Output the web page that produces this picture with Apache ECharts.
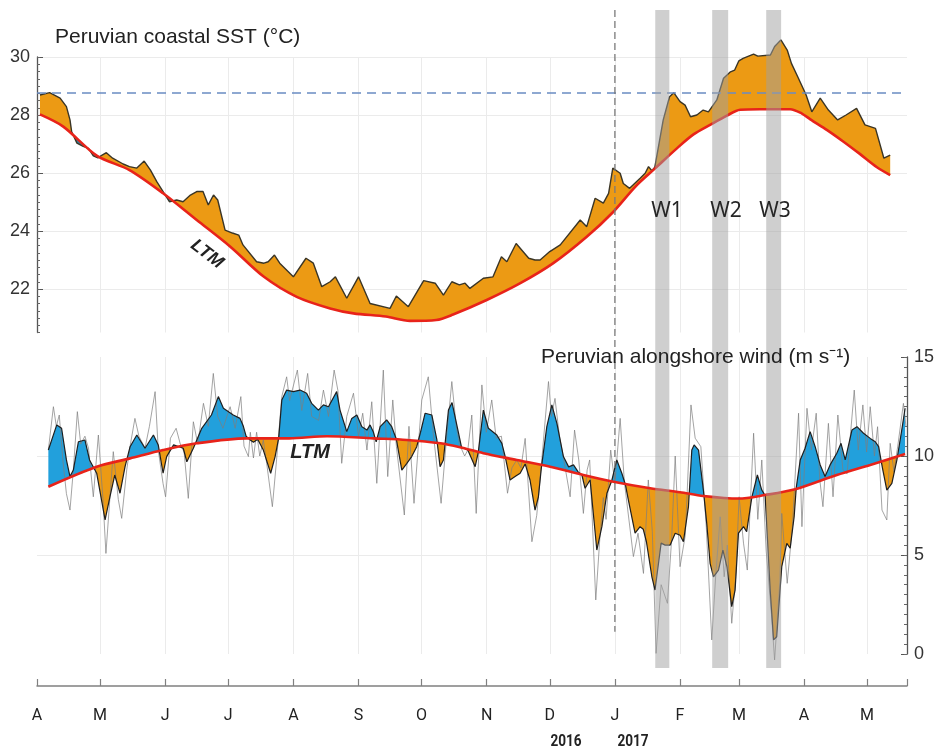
<!DOCTYPE html>
<html><head><meta charset="utf-8">
<script src="https://cdn.jsdelivr.net/npm/echarts@6/dist/echarts.min.js"></script>
<style>html,body{margin:0;padding:0;background:#fff}#c{width:938px;height:751px}</style>
</head><body><div id="c"></div>
<script>
// ---- axis / category data (x in days since 1 Apr 2016) ----
const monthStarts = [0,30,61,91,122,153,183,214,244,275,306,334,365,395];
const monthLabels = ['A','M','J','J','A','S','O','N','D','J','F','M','A','M'];
const xEnd = 414;
const janDay = 275;
const yearLabels = ['2016','2017'];
const sstTicks = [22,24,26,28,30];
const windTicks = [0,5,10,15];
const sstThreshold = 28.76;
const wEventNames = ['W1','W2','W3'];
const wEventSpans = [[294.2,300.9],[321.3,328.9],[347,354.1]];

// ---- Peruvian coastal SST (°C) ----
const sstObs = [[1.4,28.69],[6,28.77],[11,28.58],[14,28.29],[15.7,27.83],[16.5,27.42],[19,27.03],[22,26.92],[24.5,26.85],[26.8,26.59],[29,26.52],[31,26.62],[33,26.7],[36,26.51],[41,26.31],[44,26.22],[47.5,26.17],[51,26.41],[54,26.1],[57,25.7],[63,25.01],[66.5,25.07],[69.5,25.01],[73,25.24],[76,25.36],[79,25.36],[81.5,24.9],[84,25.24],[86,25.07],[89.5,24.03],[93,23.93],[96,23.86],[98,23.52],[104.5,22.94],[108,22.89],[110,22.94],[113,23.17],[115.5,22.89],[122,22.42],[128,23.06],[131.5,22.89],[135.5,22.08],[139.5,22.25],[142,22.42],[147.4,21.68],[153,22.42],[158.5,21.5],[168,21.33],[171,21.76],[176.7,21.39],[184,22.29],[189.5,22.2],[193.4,21.79],[197.4,22.25],[201,22.14],[203.7,22.2],[206,22.02],[212.4,22.37],[217,22.42],[221,23.11],[223.6,22.94],[228,23.57],[234,23.06],[237,23.0],[239.4,23.0],[244,23.29],[249,23.52],[258.5,24.38],[261.6,24.15],[265.6,25.13],[269.5,24.96],[272,25.3],[274,26.17],[277.5,25.99],[279,25.64],[282,25.47],[287,25.82],[289.4,25.99],[291,26.22],[292.6,26.08],[294,26.2],[298,27.83],[301,28.63],[303,28.77],[306,28.46],[308.4,28.34],[311,27.94],[314,28.0],[317,28.17],[319.5,28.11],[323.5,28.52],[326.7,29.27],[330,29.49],[332,29.55],[334,29.87],[336,29.95],[341,30.1],[343,30.03],[349,30.07],[351,30.36],[354,30.59],[357,30.24],[359,29.78],[362,29.32],[366,28.69],[368.7,28.11],[372.7,28.58],[376.6,28.17],[381,27.83],[385,28.0],[390,28.23],[394,27.66],[399,27.54],[403,26.51],[406,26.62]];
const sstLtm = [[1.4,28.02],[12.5,27.6],[28.4,26.6],[44,26.1],[60,25.3],[76,24.38],[92,23.46],[108,22.42],[123.6,21.73],[139.5,21.33],[150.6,21.16],[166,21.05],[177.5,20.9],[190,20.93],[198,21.12],[214,21.62],[230,22.2],[245.7,22.89],[261.6,23.8],[273.7,24.62],[285,25.55],[294,26.15],[304.5,26.85],[312.4,27.33],[320.3,27.66],[328.3,27.98],[334.6,28.18],[344,28.2],[358.4,28.2],[364,28.05],[368,27.85],[376,27.48],[383.8,27.08],[391.7,26.65],[399.7,26.2],[406,25.93]];

// ---- Peruvian alongshore wind (m s-1) ----
const windSmooth = [[5.4,10.3],[9.4,11.57],[11.7,11.4],[14,9.8],[15.7,8.96],[17.3,9.29],[19.7,10.72],[22.8,10.81],[25,9.8],[28.4,9.13],[32.4,6.77],[34.7,7.94],[37,9.04],[39.5,8.12],[41.9,9.46],[44.3,10.47],[47.5,11.06],[51.4,10.39],[55.4,11.06],[57.7,10.56],[60,9.13],[61.7,9.97],[65,10.56],[69.6,10.39],[71.3,9.71],[74.4,10.39],[78.4,11.4],[83,12.07],[86.3,13.0],[88.7,12.41],[93.4,12.07],[96.6,11.9],[98.2,11.5],[99.5,11.0],[101,10.85],[103,10.7],[105,10.85],[107.7,10.3],[111.2,9.13],[113.3,9.97],[115,10.9],[116.5,12.83],[118.8,13.33],[122,13.25],[125.2,13.33],[128.3,13.17],[130.7,12.66],[133.9,12.32],[136.3,12.58],[138.7,12.49],[142.6,13.25],[144.2,12.32],[147.4,11.23],[149.8,11.9],[152.2,12.07],[154.6,11.48],[157,11.31],[158.5,11.57],[160,11.23],[161.4,10.72],[163.3,11.48],[166.4,11.82],[168.8,11.48],[171,10.85],[173.6,9.29],[176,9.63],[178.3,9.97],[180.7,10.47],[182.5,11.2],[184.7,12.16],[187.9,12.07],[190.3,10.81],[191.8,9.46],[193.4,9.8],[195.8,12.32],[197.5,12.7],[200.5,11.2],[202,10.45],[205,10.3],[208.5,9.46],[210,10.2],[212.4,12.32],[214.8,11.4],[218.8,11.06],[221.2,10.64],[222.8,9.97],[225.1,8.79],[227.5,8.96],[229.9,9.13],[232.3,9.6],[234.6,8.79],[237,7.27],[238.6,7.94],[240,9.4],[242.6,11.48],[245,12.58],[247.4,11.65],[250.5,9.97],[253,9.45],[255.3,9.55],[257.5,9.2],[259.3,9.04],[260.8,8.37],[263.2,8.79],[266.4,5.25],[268.8,6.43],[271.2,8.12],[273.5,8.75],[275.9,9.8],[278.3,9.13],[280,8.55],[281.4,7.78],[284.6,6.1],[287,6.43],[288.5,6.3],[290,5.67],[292.6,3.9],[294.1,3.23],[297,5.6],[298.9,5.5],[301.3,5.5],[303.7,6.1],[306,6.0],[307.6,5.67],[310,7.44],[311.6,10.3],[312.7,10.56],[314.8,10.3],[317.1,8.28],[318.7,6.6],[320.3,4.58],[321.9,3.9],[324.3,4.24],[326.4,5.25],[328.3,4.41],[330.6,2.39],[332.2,3.23],[333.8,6.1],[336.2,6.43],[337.7,6.18],[340.2,7.94],[342.8,9.04],[344.9,8.28],[346.5,8.0],[348.9,3.23],[350.5,0.71],[352,0.87],[354.4,4.41],[356.8,5.59],[358.4,5.34],[360.3,6.93],[361.3,8.4],[363.2,9.8],[365.5,10.39],[367.9,11.23],[370.3,10.47],[372.7,9.55],[375,8.96],[377.4,9.55],[380.6,10.14],[382.6,10.64],[384.6,9.8],[387.8,11.31],[390.2,11.48],[393.3,11.15],[396.5,10.89],[398.9,10.72],[400.5,10.47],[402.3,9.4],[404.4,8.28],[406.8,8.62],[409.2,9.8],[411.5,11.31],[413.1,12.41]];
const windLtm = [[5.4,8.45],[28.4,9.46],[44.3,9.88],[60,10.3],[76,10.64],[99.8,10.89],[120,10.89],[138,11.0],[160,10.89],[176,10.81],[192,10.64],[201.3,10.44],[212.4,10.14],[228.3,9.8],[244.2,9.46],[260,9.04],[274.3,8.7],[291.8,8.37],[306,8.17],[317.1,7.98],[333.8,7.85],[346.5,8.03],[360.8,8.32],[380.6,9.04],[396.5,9.55],[413.1,10.1]];
const windRaw = [[5.4,10.3],[7.8,12.49],[9.2,11.5],[10.6,12.07],[12.3,9.8],[14,8.1],[15.7,7.27],[17.3,9.3],[19.2,12.24],[20.8,10.6],[22.8,11.0],[24.5,10.4],[26.8,7.94],[29.2,11.06],[31.4,7.8],[32.8,5.08],[34.7,7.9],[36.3,10.22],[38.7,7.8],[40.3,6.85],[42.7,9.3],[44.3,10.5],[46.6,11.9],[48.5,11.0],[51.4,10.4],[53.5,11.5],[56.2,13.25],[57.7,10.3],[60,8.6],[61.2,7.94],[63.5,10.9],[66.2,11.4],[68.2,10.6],[70,10.2],[72,7.86],[74.4,11.73],[76.5,10.6],[79.2,12.66],[81.5,11.5],[83.9,14.17],[86,12.0],[88.5,11.4],[91.9,12.49],[94.3,11.4],[97,13.0],[98.5,10.5],[100.6,9.97],[101.5,11.2],[103,9.9],[104.5,11.2],[106,10.0],[107.7,10.8],[109.3,9.63],[112,7.44],[114,9.8],[116.5,13.0],[118.8,14.0],[120.2,12.8],[123.9,14.34],[126,12.3],[128.8,14.17],[130.7,12.0],[134,11.8],[136.3,13.33],[138.7,12.0],[141.4,14.34],[143.2,13.3],[145,9.63],[147.4,12.0],[150.6,13.17],[153,11.0],[155,12.16],[157,10.3],[159.3,12.74],[161.7,8.62],[164.8,14.34],[166.9,8.96],[169.3,12.83],[171,10.5],[174.8,7.02],[177,11.5],[179.4,7.61],[183.1,12.83],[186.2,14.0],[188.5,11.2],[192.3,7.61],[194.8,10.8],[197.4,13.76],[199.5,11.5],[201,10.6],[203.5,10.0],[205,10.3],[206.9,12.07],[209,7.1],[211.7,13.59],[213.8,11.2],[216.4,12.83],[218.5,10.9],[221,11.0],[223.9,8.12],[226,9.4],[228.3,9.8],[230.3,9.4],[232.3,10.89],[235.5,5.67],[237.8,7.0],[240.2,9.8],[243.4,13.76],[244.8,12.0],[246.5,12.91],[248.6,11.0],[250.7,9.8],[253.7,7.94],[255.8,11.31],[257.8,9.8],[260,7.1],[261.8,9.3],[263,9.8],[265.9,2.73],[267.8,5.8],[269.5,7.9],[270.8,6.8],[273,10.3],[275,8.6],[277.5,11.9],[279.5,8.7],[283.8,4.92],[286,6.1],[288.6,4.07],[290.9,8.79],[292.8,6.2],[294.6,0.03],[297,3.5],[300,2.56],[302,5.8],[303.7,10.0],[306,4.41],[308.5,6.0],[311.2,12.58],[313.2,10.9],[315.9,10.47],[318.5,6.4],[321.1,0.71],[323,4.0],[325.1,6.93],[327,3.9],[328.5,5.5],[330.6,1.55],[332.5,3.9],[334.1,7.94],[336.2,5.6],[338,4.24],[341,11.15],[343,6.8],[344.9,9.8],[347,5.2],[349.5,2.0],[351,-0.3],[353.5,3.7],[354.4,7.1],[357,3.57],[359.5,6.5],[362.4,12.16],[364,6.43],[366.4,12.41],[368.5,10.3],[370.8,12.16],[372.5,8.8],[374,7.44],[376.6,11.65],[378.8,7.94],[381.1,12.07],[383.5,9.3],[385.5,9.1],[388.9,13.33],[390.8,10.3],[393,12.58],[394.8,10.2],[396.5,12.49],[398.5,10.0],[400,11.48],[402.1,7.27],[404.4,6.77],[406,10.64],[407.8,9.2],[409.6,10.5],[412.3,12.66],[413.5,11.5]];

// ---- colours ----
const ORANGE = '#EC9A14';
const BLUE = '#22A0DC';
const TEAL = '#2f7f9f';
const RED = '#E8231A';

function makeFill(upper, lower, colAbove, colBelow) {
  return function (params, api) {
    const A = upper.map(p => api.coord(p));
    const B = lower.map(p => api.coord(p));
    const x0 = Math.max(A[0][0], B[0][0]);
    const x1 = Math.min(A[A.length - 1][0], B[B.length - 1][0]);
    const xs = [];
    A.concat(B).forEach(p => { if (p[0] >= x0 - 1e-6 && p[0] <= x1 + 1e-6) xs.push(p[0]); });
    xs.sort((a, b) => a - b);
    const ux = xs.filter((v, i) => i === 0 || v - xs[i - 1] > 1e-6);
    const yAt = (P, x) => {
      for (let i = 0; i < P.length - 1; i++) {
        if (x >= P[i][0] - 1e-9 && x <= P[i + 1][0] + 1e-9) {
          const w = P[i + 1][0] - P[i][0];
          const t = w === 0 ? 0 : (x - P[i][0]) / w;
          return P[i][1] + t * (P[i + 1][1] - P[i][1]);
        }
      }
      return P[P.length - 1][1];
    };
    const pts = ux.map(x => [x, yAt(A, x), yAt(B, x)]);
    const children = [];
    let run = null, sign = 0;
    const flush = () => {
      if (run && run.length > 1) {
        const poly = run.map(p => [p[0], p[1]]).concat(run.slice().reverse().map(p => [p[0], p[2]]));
        children.push({ type: 'polygon', silent: true, shape: { points: poly }, style: { fill: sign > 0 ? colAbove : colBelow } });
      }
    };
    pts.forEach(p => {
      const s = (p[2] - p[1]) >= 0 ? 1 : -1;
      if (run === null) { run = [p]; sign = s; return; }
      if (s !== sign) {
        const q = run[run.length - 1];
        const d0 = q[2] - q[1], d1 = p[2] - p[1];
        const t = d0 / (d0 - d1);
        const cy = q[1] + t * (p[1] - q[1]);
        const c = [q[0] + t * (p[0] - q[0]), cy, cy];
        run.push(c); flush(); run = [c, p]; sign = s;
      } else run.push(p);
    });
    flush();
    return { type: 'group', children };
  };
}

const chart = echarts.init(document.getElementById('c'), null, { renderer: 'canvas' });
const gridLine = '#ebebeb';
const monthTickVals = monthStarts.concat([xEnd]);
const noZero = { onZero: false };

const option = {
  animation: false,
  backgroundColor: '#fff',
  textStyle: { fontFamily: 'Liberation Sans' },
  grid: [
    { left: 37, right: 31, top: 57, height: 275.5 },
    { left: 37, right: 31, top: 357, height: 297 },
    { left: 37, right: 31, top: 10, height: 658 }
  ],
  xAxis: [
    { type: 'value', gridIndex: 0, min: 0, max: xEnd,
      axisLine: { show: false, onZero: false }, axisLabel: { show: false },
      axisTick: { show: false, customValues: monthStarts },
      splitLine: { show: true, lineStyle: { color: gridLine, width: 1 } } },
    { type: 'value', gridIndex: 1, min: 0, max: xEnd, position: 'bottom', offset: 32,
      axisLine: { show: true, onZero: false, lineStyle: { color: '#808080', width: 1.5 } },
      axisTick: { show: true, inside: true, length: 7, customValues: monthTickVals, lineStyle: { color: '#808080', width: 1.2 } },
      axisLabel: { show: true, customValues: monthStarts, margin: 22, fontSize: 16, color: '#222',
        fontFamily: 'Roboto',
        formatter: v => monthLabels[monthStarts.indexOf(Math.round(v))] || '' },
      splitLine: { show: true, lineStyle: { color: ['transparent', gridLine, gridLine, gridLine, gridLine, gridLine, gridLine, gridLine, gridLine, gridLine, gridLine, gridLine, gridLine, gridLine, 'transparent'], width: 1 } } },
    { type: 'value', gridIndex: 2, min: 0, max: xEnd, show: false, axisLine: noZero }
  ],
  yAxis: [
    { type: 'value', gridIndex: 0, min: 20.5, max: 30, position: 'left',
      axisLine: { show: true, onZero: false, lineStyle: { color: '#555', width: 1.3 } },
      axisTick: { show: true, inside: true, length: 6, customValues: sstTicks, lineStyle: { color: '#555' } },
      axisLabel: { show: true, customValues: sstTicks, fontSize: 18, color: '#333', margin: 7 },
      splitLine: { show: true, lineStyle: { color: gridLine, width: 1 } } },
    { type: 'value', gridIndex: 0, min: 20.5, max: 30, interval: 0.25, position: 'left',
      axisLine: { show: false, onZero: false }, axisLabel: { show: false }, splitLine: { show: false },
      axisTick: { show: true, inside: true, length: 3, lineStyle: { color: '#666' } } },
    { type: 'value', gridIndex: 1, min: 0, max: 15, position: 'right',
      axisLine: { show: true, onZero: false, lineStyle: { color: '#555', width: 1.3 } },
      axisTick: { show: true, inside: true, length: 6, customValues: windTicks, lineStyle: { color: '#555' } },
      axisLabel: { show: true, customValues: windTicks, fontSize: 18, color: '#333', margin: 7 },
      splitLine: { show: true, lineStyle: { color: ['transparent', gridLine, gridLine, 'transparent'], width: 1 } } },
    { type: 'value', gridIndex: 1, min: 0, max: 15, interval: 0.5, position: 'right',
      axisLine: { show: false, onZero: false }, axisLabel: { show: false }, splitLine: { show: false },
      axisTick: { show: true, inside: true, length: 3, lineStyle: { color: '#666' } } },
    { type: 'value', gridIndex: 2, min: 0, max: 1, show: false, axisLine: noZero }
  ],
  series: [
    { type: 'custom', xAxisIndex: 0, yAxisIndex: 0, z: 2, silent: true, clip: false,
      data: [[0, 25]], renderItem: makeFill(sstObs, sstLtm, ORANGE, TEAL) },
    { type: 'line', xAxisIndex: 0, yAxisIndex: 0, z: 3, data: sstObs, symbol: 'none', clip: false, silent: true,
      lineStyle: { color: '#3a3526', width: 1.4 } },
    { type: 'line', xAxisIndex: 0, yAxisIndex: 0, z: 4, data: sstLtm, symbol: 'none', clip: false, silent: true, smooth: 0.3,
      lineStyle: { color: RED, width: 2.6 },
      markLine: { silent: true, symbol: ['none', 'none'], label: { show: false },
        lineStyle: { color: '#6a8cc2', type: [9, 6], width: 1.5 }, data: [{ yAxis: sstThreshold }] } },
    { type: 'custom', xAxisIndex: 1, yAxisIndex: 2, z: 2, silent: true, clip: false,
      data: [[0, 5]], renderItem: makeFill(windSmooth, windLtm, BLUE, ORANGE) },
    { type: 'line', xAxisIndex: 1, yAxisIndex: 2, z: 3, data: windRaw, symbol: 'none', clip: false, silent: true,
      lineStyle: { color: 'rgba(125,125,125,0.7)', width: 1 } },
    { type: 'line', xAxisIndex: 1, yAxisIndex: 2, z: 4, data: windSmooth, symbol: 'none', clip: false, silent: true,
      lineStyle: { color: '#1e1e1e', width: 1.2 } },
    { type: 'line', xAxisIndex: 1, yAxisIndex: 2, z: 5, data: windLtm, symbol: 'none', clip: false, silent: true, smooth: 0.3,
      lineStyle: { color: RED, width: 2.6 } },
    { type: 'custom', xAxisIndex: 2, yAxisIndex: 4, z: 10, silent: true, clip: false,
      data: wEventSpans,
      renderItem: (params, api) => {
        const a = api.coord([api.value(0), 1]);
        const b = api.coord([api.value(1), 0]);
        return { type: 'rect', shape: { x: a[0], y: a[1], width: b[0] - a[0], height: b[1] - a[1] },
          style: { fill: 'rgba(160,160,160,0.5)' } };
      } },
    { type: 'custom', xAxisIndex: 2, yAxisIndex: 4, z: 11, silent: true, clip: false,
      data: [[janDay]],
      renderItem: (params, api) => {
        const a = api.coord([api.value(0), 1]);
        const b = api.coord([api.value(0), 0.055]);
        return { type: 'line', shape: { x1: a[0], y1: a[1], x2: b[0], y2: b[1] },
          style: { stroke: '#7a7a7a', lineWidth: 1.3, lineDash: [7, 4] } };
      } }
  ],
  graphic: [
    { type: 'text', z: 100, x: 55, y: 37, style: { text: 'Peruvian coastal SST (°C)', fontSize: 21, fill: '#222', fontFamily: 'Liberation Sans', textVerticalAlign: 'middle' } },
    { type: 'text', z: 100, x: 541, y: 357, style: { text: 'Peruvian alongshore wind (m s\u207B\u00B9)', fontSize: 21, fill: '#222', fontFamily: 'Liberation Sans', textVerticalAlign: 'middle' } },
    { type: 'text', z: 100, x: 207, y: 254, rotation: -0.66, style: { text: 'LTM', fontSize: 18, fontWeight: 'bold', fontStyle: 'italic', fill: '#222', fontFamily: 'Liberation Sans', textAlign: 'center', textVerticalAlign: 'middle' } },
    { type: 'text', z: 100, x: 310, y: 452, style: { text: 'LTM', fontSize: 20, fontWeight: 'bold', fontStyle: 'italic', fill: '#222', fontFamily: 'Liberation Sans', textAlign: 'center', textVerticalAlign: 'middle' } },
    { type: 'text', z: 100, x: 667, y: 211, style: { text: wEventNames[0], fontSize: 21, fill: '#262626', fontFamily: 'Noto Sans', textAlign: 'center', textVerticalAlign: 'middle' } },
    { type: 'text', z: 100, x: 726, y: 211, style: { text: wEventNames[1], fontSize: 21, fill: '#262626', fontFamily: 'Noto Sans', textAlign: 'center', textVerticalAlign: 'middle' } },
    { type: 'text', z: 100, x: 775, y: 211, style: { text: wEventNames[2], fontSize: 21, fill: '#262626', fontFamily: 'Noto Sans', textAlign: 'center', textVerticalAlign: 'middle' } },
    { type: 'text', z: 100, x: 566, y: 742, scaleX: 0.85, style: { text: yearLabels[0], fontSize: 16, fontWeight: 'bold', fill: '#222', fontFamily: 'Roboto', textAlign: 'center', textVerticalAlign: 'middle' } },
    { type: 'text', z: 100, x: 633, y: 742, scaleX: 0.85, style: { text: yearLabels[1], fontSize: 16, fontWeight: 'bold', fill: '#222', fontFamily: 'Roboto', textAlign: 'center', textVerticalAlign: 'middle' } }
  ]
};
chart.setOption(option);
</script>
</body></html>
